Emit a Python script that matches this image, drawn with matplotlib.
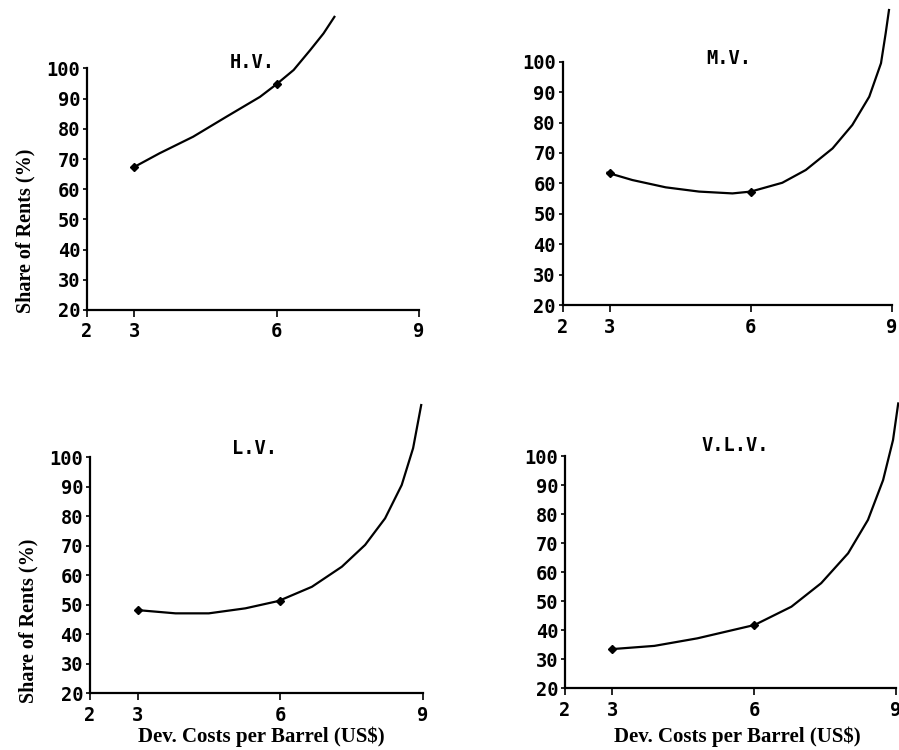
#/usr/bin/env python3
import matplotlib
matplotlib.use("Agg")
import matplotlib.pyplot as plt

# valores (costo de desarrollo vs participacion en rentas)
x_ticks = [2, 3, 6, 9]
y_ticks = [20, 30, 40, 50, 60, 70, 80, 90, 100]

# H.V.
hv_x = [3.0, 3.53, 4.24, 4.94, 5.65, 6.0, 6.36, 6.71, 6.99, 7.22]
hv_y = [67.4, 71.9, 77.4, 84.0, 90.6, 94.8, 99.5, 106.1, 111.6, 117.1]
hv_pts_x = [3, 6]
hv_pts_y = [67.4, 94.8]

# M.V.
mv_x = [2.95, 3.48, 4.19, 4.9, 5.61, 6.0, 6.67, 7.17, 7.74, 8.16, 8.52, 8.77, 8.87, 8.94]
mv_y = [63.5, 61.1, 58.7, 57.3, 56.7, 57.3, 60.2, 64.4, 71.5, 79.2, 88.5, 99.5, 109.4, 117.0]
mv_pts_x = [3, 6]
mv_pts_y = [63.5, 57.3]

# L.V.
lv_x = [3.0, 3.8, 4.5, 5.27, 5.97, 6.67, 7.3, 7.79, 8.21, 8.56, 8.8, 8.97]
lv_y = [48.2, 47.1, 47.1, 48.8, 51.3, 56.1, 62.9, 70.3, 79.3, 90.6, 103.1, 117.7]
lv_pts_x = [3, 6]
lv_pts_y = [48.2, 51.3]

# V.L.V.
vlv_x = [3.0, 3.89, 4.8, 6.01, 6.79, 7.42, 7.99, 8.41, 8.73, 8.94, 9.05]
vlv_y = [33.5, 34.6, 37.2, 41.8, 48.1, 56.2, 66.5, 78.0, 91.7, 105.5, 118.1]
vlv_pts_x = [3, 6]
vlv_pts_y = [33.5, 41.8]

titles = ["H.V.", "M.V.", "L.V.", "V.L.V."]
ylabel = "Share of Rents (%)"
xlabel = "Dev. Costs per Barrel (US$)"

mono = "DejaVu Sans Mono"
serif = "Liberation Serif"


def panel(fig, pos, cx, cy, px, py, title, tpos):
    ax = fig.add_axes(pos)
    ax.plot(cx, cy, color="black", lw=1.6, clip_on=False)
    ax.plot(px, py, "D", color="black", ms=4.5, clip_on=False)
    ax.set_xlim(2, 9)
    ax.set_ylim(20, 100)
    ax.spines["top"].set_visible(False)
    ax.spines["right"].set_visible(False)
    ax.spines["left"].set_linewidth(1.6)
    ax.spines["bottom"].set_linewidth(1.6)
    ax.set_xticks(x_ticks)
    ax.set_yticks(y_ticks)
    ax.tick_params(axis="x", direction="out", length=5, width=1.2, pad=4)
    ax.tick_params(axis="y", direction="out", length=3, width=1.2, pad=2)
    for lab in ax.get_xticklabels() + ax.get_yticklabels():
        lab.set_fontfamily(mono)
        lab.set_fontweight("bold")
        lab.set_fontsize(13.5)
    ax.text(tpos[0], tpos[1], title, transform=ax.transAxes, ha="center",
            va="center", fontfamily=mono, fontweight="bold", fontsize=13.5)
    return ax


def grafico():
    fig = plt.figure(figsize=(8.99, 7.5), dpi=100)
    fig.patch.set_facecolor("white")

    ax1 = panel(fig, [0.0968, 0.5867, 0.369, 0.322], hv_x, hv_y,
                hv_pts_x, hv_pts_y, titles[0], (0.497, 1.026))
    ax2 = panel(fig, [0.626, 0.5933, 0.366, 0.3244], mv_x, mv_y,
                mv_pts_x, mv_pts_y, titles[1], (0.503, 1.014))
    ax3 = panel(fig, [0.1001, 0.0756, 0.370, 0.3147], lv_x, lv_y,
                lv_pts_x, lv_pts_y, titles[2], (0.496, 1.038))
    ax4 = panel(fig, [0.6285, 0.0823, 0.368, 0.3097], vlv_x, vlv_y,
                vlv_pts_x, vlv_pts_y, titles[3], (0.514, 1.047))

    # etiquetas de ejes solo en los paneles de la izquierda / abajo
    kw = dict(ha="center", va="center", fontfamily=serif, fontweight="bold")
    ax1.text(-0.187, 0.326, ylabel, rotation=90, transform=ax1.transAxes,
             fontsize=14.5, **kw)
    ax3.text(-0.186, 0.308, ylabel, rotation=90, transform=ax3.transAxes,
             fontsize=14.5, **kw)
    ax3.text(0.516, -0.184, xlabel, transform=ax3.transAxes, fontsize=15, **kw)
    ax4.text(0.52, -0.208, xlabel, transform=ax4.transAxes, fontsize=15, **kw)

    fig.savefig("out.png", dpi=100)


if __name__ == "__main__":
    grafico()
